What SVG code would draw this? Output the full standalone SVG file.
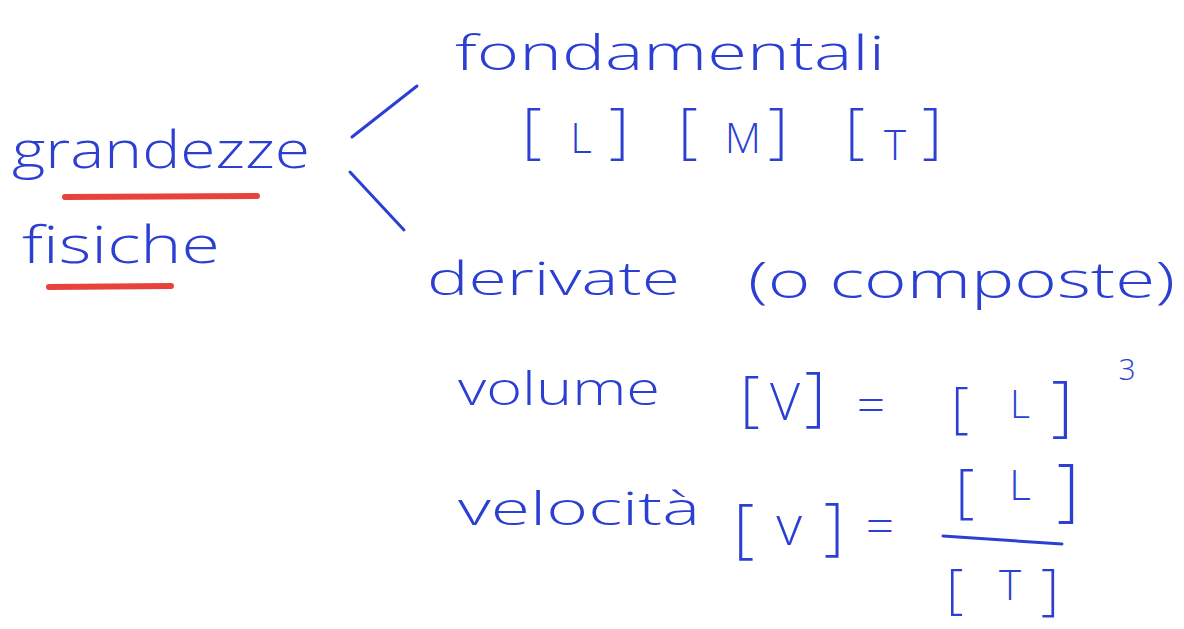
<svg xmlns="http://www.w3.org/2000/svg" width="1184" height="629" viewBox="0 0 1184 629">
<style>
.t{font-family:"Open Sans","Liberation Sans","DejaVu Sans",sans-serif;font-weight:300;fill:#2b3fd2;}
.b{text-anchor:middle;}
.ink{stroke:#2b3fd2;stroke-width:3;fill:none;stroke-linecap:round;}
.red{stroke:#e8433b;stroke-width:6;fill:none;stroke-linecap:round;}
</style>
<rect width="1184" height="629" fill="#ffffff"/>
<g id="grandezze-fisiche">
<text class="t" x="12" y="168" font-size="52" textLength="298" lengthAdjust="spacingAndGlyphs">grandezze</text>
<path class="red" d="M65 197 L257 196"/>
<text class="t" x="22" y="263" font-size="52" textLength="198" lengthAdjust="spacingAndGlyphs">fisiche</text>
<path class="red" d="M49 287 L171 286"/>
</g>
<g id="connectors">
<path class="ink" d="M352 137 L417 86"/>
<path class="ink" d="M350 172 L404 230"/>
</g>
<g id="fondamentali">
<text class="t" x="455" y="70" font-size="48" textLength="430" lengthAdjust="spacingAndGlyphs">fondamentali</text>
<text class="t b" x="532" y="152" font-size="61">[</text>
<text class="t b" x="581" y="153" font-size="42">L</text>
<text class="t b" x="619" y="152" font-size="61">]</text>
<text class="t b" x="688" y="152" font-size="61">[</text>
<text class="t b" x="743" y="153" font-size="42">M</text>
<text class="t b" x="778" y="152" font-size="61">]</text>
<text class="t b" x="855" y="152" font-size="61">[</text>
<text class="t b" x="895" y="160" font-size="42">T</text>
<text class="t b" x="932" y="152" font-size="61">]</text>
</g>
<g id="derivate">
<text class="t" x="427" y="295" font-size="46" textLength="253" lengthAdjust="spacingAndGlyphs">derivate</text>
<text class="t" x="748" y="298" font-size="50" textLength="427" lengthAdjust="spacingAndGlyphs">(o composte)</text>
</g>
<g id="volume">
<text class="t" x="458" y="405" font-size="46" textLength="202" lengthAdjust="spacingAndGlyphs">volume</text>
<text class="t b" x="750" y="420" font-size="61">[</text>
<text class="t b" x="785" y="420" font-size="52">V</text>
<text class="t b" x="815" y="418" font-size="65">]</text>
<text class="t b" x="871" y="423" font-size="50">=</text>
<text class="t b" x="960" y="427" font-size="55">[</text>
<text class="t b" x="1020" y="418" font-size="39">L</text>
<text class="t b" x="1062" y="429" font-size="66">]</text>
<text class="t b" x="1127" y="380" font-size="30">3</text>
</g>
<g id="velocita">
<text class="t" x="458" y="525" font-size="46" textLength="242" lengthAdjust="spacingAndGlyphs">velocità</text>
<text class="t b" x="744" y="550" font-size="64">[</text>
<text class="t b" x="789" y="545" font-size="56">v</text>
<text class="t b" x="834" y="548" font-size="62">]</text>
<text class="t b" x="880" y="544" font-size="50">=</text>
<text class="t b" x="965" y="511" font-size="59">[</text>
<text class="t b" x="1020" y="500" font-size="42">L</text>
<text class="t b" x="1068" y="513" font-size="69">]</text>
<path class="ink" d="M943 536 L1062 544"/>
<text class="t b" x="955" y="607" font-size="53">[</text>
<text class="t b" x="1010" y="600" font-size="42">T</text>
<text class="t b" x="1050" y="609" font-size="56">]</text>
</g>
</svg>
